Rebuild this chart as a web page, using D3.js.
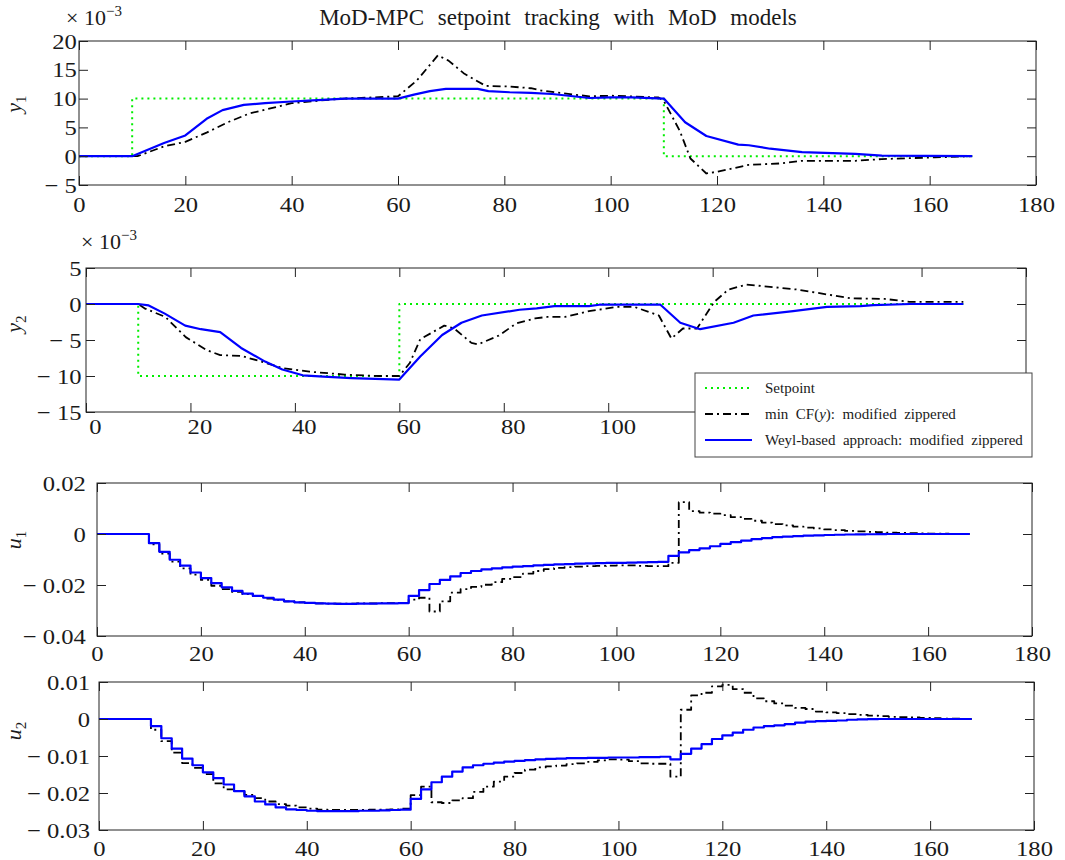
<!DOCTYPE html>
<html>
<head>
<meta charset="utf-8">
<script src="https://cdn.jsdelivr.net/npm/d3@7"></script>
<style>
  body { margin: 0; background: #fff; }
  svg text { font-family: "Liberation Serif", "Times New Roman", serif; fill: #1a1a1a; }
</style>
</head>
<body>
<div id="chart"></div>
<script>
// ---------- data (outputs in units of 1e-3) ----------
const spY1T = [0, 10, 110, 168];
const spY1 = [0, 10, 0, 0];
const spY2T = [0, 10, 60, 168];
const spY2 = [0, -10, 0, 0];

const y1WeylT = [0, 10, 16, 20, 24, 27, 31, 35, 40, 44, 50, 60, 63, 66, 69, 75, 77, 81, 85, 89, 96, 100, 104, 110, 114, 118, 124, 126, 130, 136, 146, 151, 168];
const y1Weyl = [0, 0, 2.3, 3.6, 6.5, 8.0, 8.9, 9.2, 9.5, 9.7, 10.0, 10.0, 10.7, 11.3, 11.7, 11.7, 11.3, 11.1, 11.0, 10.8, 10.1, 10.2, 10.2, 10.0, 5.9, 3.5, 2.0, 1.9, 1.3, 0.7, 0.4, 0.1, 0];

const y1CfT = [0, 11, 16, 20, 24, 28, 32, 36, 40, 47, 50, 60, 63.5, 67.5, 69.5, 72.5, 76.5, 81, 85, 87, 93, 96, 100, 109, 110, 113, 115, 118, 120, 126, 132, 136, 146, 151, 161, 168];
const y1Cf = [0, 0, 1.7, 2.5, 4.1, 5.9, 7.4, 8.3, 9.2, 9.8, 10.0, 10.4, 13.1, 17.5, 16.6, 14.3, 12.2, 12.1, 11.8, 11.4, 10.7, 10.4, 10.5, 10.2, 9.6, 4.4, -0.4, -3.0, -2.7, -1.5, -1.25, -0.8, -0.8, -0.5, -0.2, 0];

const y2WeylT = [0, 10, 12, 15, 19, 22, 25.7, 29.7, 34.3, 37.6, 41.5, 45.5, 50.8, 60, 64, 68.2, 71.9, 75.8, 83, 86.3, 89.7, 96.3, 98.3, 110, 113.8, 117.6, 124, 127.8, 135.4, 141.9, 148.3, 150.8, 157.8, 168];
const y2Weyl = [0, 0, -0.2, -1.3, -3.0, -3.5, -3.9, -6.1, -8.0, -9.1, -9.9, -10.1, -10.3, -10.5, -7.3, -4.3, -2.6, -1.6, -0.8, -0.6, -0.3, -0.3, -0.1, -0.1, -2.6, -3.5, -2.6, -1.6, -1.0, -0.4, -0.3, -0.15, 0, 0];

const y2CfT = [0, 10, 11.2, 15.2, 19.1, 23.1, 25.7, 29.7, 33.6, 37.6, 42.8, 49.5, 56, 60, 62, 64, 68.6, 70.5, 73.8, 75.1, 79, 82.4, 86, 88.3, 91.7, 96.3, 101.7, 105, 109.7, 112.1, 114.3, 117, 120.3, 123, 126.5, 136.3, 146.3, 153, 157.7, 168];
const y2Cf = [0, 0, -0.6, -1.8, -4.6, -6.4, -7.1, -7.2, -8.0, -8.9, -9.4, -9.8, -10.0, -10.0, -8.2, -4.9, -3.0, -3.4, -5.4, -5.6, -4.4, -2.7, -2.0, -1.8, -1.8, -1.0, -0.4, -0.4, -1.6, -4.8, -3.4, -3.4, 0.3, 2.0, 2.7, 2.0, 0.8, 0.7, 0.3, 0.3];

// inputs, held over each 2 s sample (units of 1e-3)
const tU = d3.range(0, 170, 2);
const u1Weyl = [0, 0, 0, 0, 0, -3.6, -7.0, -10.1, -12.4, -15.1, -17.3, -19.3, -20.9, -22.3, -23.4, -24.3, -25.0, -25.7, -26.4, -26.8,
  -27.0, -27.2, -27.3, -27.4, -27.4, -27.3, -27.3, -27.2, -27.2, -27.1, -24.3, -22.0, -19.6, -18.0, -16.6, -15.3, -14.5, -13.9, -13.5, -13.1,
  -12.8, -12.6, -12.3, -12.1, -11.9, -11.8, -11.6, -11.5, -11.4, -11.3, -11.3, -11.2, -11.1, -11.0, -10.9, -8.6, -7.2, -6.3, -5.6, -4.8,
  -3.9, -3.2, -2.6, -2.0, -1.6, -1.2, -1.0, -0.8, -0.6, -0.5, -0.4, -0.3, -0.2, -0.15, -0.1, -0.05, 0, 0, 0, 0, 0, 0, 0, 0, 0];
const u1Cf = [0, 0, 0, 0, 0, -4.1, -7.7, -10.8, -13.5, -15.9, -18.0, -20.3, -21.6, -22.7, -23.6, -24.3, -25.3, -25.8, -26.4, -26.8,
  -27.0, -27.2, -27.3, -27.3, -27.3, -27.2, -27.2, -27.1, -27.1, -27.0, -25.7, -25.0, -30.4, -26.4, -23.0, -21.6, -20.7, -19.9, -18.9, -17.6,
  -16.9, -15.5, -14.5, -13.8, -13.3, -13.0, -12.8, -12.6, -12.5, -12.4, -12.3, -12.3, -12.5, -12.6, -12.6, -11.3, 12.5, 9.0, 8.4, 8.0,
  7.4, 6.6, 5.9, 5.2, 4.5, 3.9, 3.4, 2.9, 2.5, 2.2, 1.8, 1.5, 1.2, 1.0, 0.8, 0.7, 0.5, 0.4, 0.3, 0.2, 0.1, 0.1, 0.05, 0, 0];
const u2Weyl = [0, 0, 0, 0, 0, -1.9, -5.2, -8.0, -10.7, -12.5, -14.4, -16.0, -17.7, -19.5, -20.9, -22.3, -23.1, -23.9, -24.4, -24.6,
  -24.8, -24.9, -24.9, -24.9, -24.9, -24.8, -24.8, -24.7, -24.6, -24.5, -21.6, -19.0, -17.1, -15.6, -14.2, -13.1, -12.5, -12.1, -11.8, -11.5,
  -11.3, -11.1, -10.9, -10.8, -10.7, -10.6, -10.6, -10.5, -10.5, -10.4, -10.4, -10.4, -10.3, -10.3, -10.2, -10.9, -9.4, -8.0, -6.8, -5.4,
  -4.4, -3.7, -2.9, -2.3, -1.9, -1.7, -1.4, -1.0, -0.7, -0.6, -0.5, -0.4, -0.2, -0.1, -0.05, 0, 0, 0, 0, 0, 0, 0, 0, 0, 0];
const u2Cf = [0, 0, 0, 0, 0, -2.9, -6.0, -9.1, -11.9, -13.2, -14.9, -17.4, -19.0, -19.5, -20.5, -21.4, -22.3, -23.0, -23.4, -23.9,
  -24.2, -24.5, -24.6, -24.6, -24.6, -24.6, -24.5, -24.5, -24.4, -24.2, -20.6, -18.3, -22.5, -22.7, -22.0, -21.4, -19.7, -18.3, -16.9, -15.6,
  -14.6, -13.7, -13.1, -12.8, -12.6, -12.2, -12.0, -11.6, -11.2, -10.9, -11.0, -11.4, -12.0, -12.1, -12.1, -15.6, 2.5, 6.4, 7.1, 8.8,
  9.2, 8.1, 7.1, 5.6, 4.8, 4.2, 3.6, 3.0, 2.7, 2.0, 1.8, 1.6, 1.3, 1.1, 0.9, 0.8, 0.6, 0.5, 0.4, 0.3, 0.2, 0.1, 0.1, 0, 0];

const xTicks = [0, 20, 40, 60, 80, 100, 120, 140, 160, 180];
const y1Ticks = [-5, 0, 5, 10, 15, 20];
const y2Ticks = [-15, -10, -5, 0, 5];
const u1Ticks = [-40, -20, 0, 20];
const u2Ticks = [-30, -20, -10, 0, 10];

const titleText = "MoD-MPC setpoint tracking with MoD models";

// ---------- styles ----------
const serif = "'Liberation Serif', 'Times New Roman', serif";
const styles = {
  sp:   {color: "#00ee00", width: 2, dash: "2,4"},
  cf:   {color: "#000000", width: 1.8, dash: "8,4,2,4"},
  weyl: {color: "#0000ff", width: 2.2, dash: null}
};

const zip = (t, v) => t.map((d, i) => [d, v[i]]);

const minusFmt = v => v < 0 ? "\u2212 " + (-v) : String(v);
const milliFmt = v => {
  if (v === 0) return "0";
  const s = d3.format(".2f")(Math.abs(v) / 1000);
  return v < 0 ? "\u2212 " + s : s;
};

// legend box (panel 2 tick labels under it are hidden, as in the figure)
const legendBox = {x: 695, y: 373, w: 337, h: 84};

const panels = [
  {name: "y", sub: "1", box: {l: 79, r: 1036, t: 41, b: 185}, yDomain: [-5, 20], yTicks: y1Ticks, fmt: minusFmt,
    xPad: 11, yPad: 2, xDx: 0, labelY: 104, exp: [66, 25],
    lines: [{d: zip(spY1T, spY1), s: "sp", step: true}, {d: zip(y1CfT, y1Cf), s: "cf"}, {d: zip(y1WeylT, y1Weyl), s: "weyl"}]},
  {name: "y", sub: "2", box: {l: 86, r: 1026, t: 268, b: 412}, yDomain: [-15, 5], yTicks: y2Ticks, fmt: minusFmt,
    xPad: 6, yPad: 4, xDx: 8, labelY: 324, exp: [81, 249], underLegend: true,
    lines: [{d: zip(spY2T, spY2), s: "sp", step: true}, {d: zip(y2CfT, y2Cf), s: "cf"}, {d: zip(y2WeylT, y2Weyl), s: "weyl"}]},
  {name: "u", sub: "1", box: {l: 97, r: 1032, t: 483, b: 636}, yDomain: [-40, 20], yTicks: u1Ticks, fmt: milliFmt,
    xPad: 9, yPad: 10, xDx: 0, labelY: 540,
    lines: [{d: zip(tU, u1Cf), s: "cf", step: true}, {d: zip(tU, u1Weyl), s: "weyl", step: true}]},
  {name: "u", sub: "2", box: {l: 99, r: 1034, t: 682, b: 830}, yDomain: [-30, 10], yTicks: u2Ticks, fmt: milliFmt,
    xPad: 10, yPad: 8, xDx: 0, labelY: 731,
    lines: [{d: zip(tU, u2Cf), s: "cf", step: true}, {d: zip(tU, u2Weyl), s: "weyl", step: true}]}
];

const svg = d3.select("#chart").append("svg")
  .attr("width", 1065)
  .attr("height", 860);

const tickFont = 22, tickStretch = 1.12, tickLen = 9;

panels.forEach(p => {
  const b = p.box;
  const x = d3.scaleLinear().domain([0, 180]).range([b.l, b.r]);
  const y = d3.scaleLinear().domain(p.yDomain).range([b.b, b.t]);
  const g = svg.append("g");

  // series
  p.lines.forEach(ln => {
    const st = styles[ln.s];
    const line = d3.line()
      .x(d => x(d[0]))
      .y(d => y(d[1]))
      .curve(ln.step ? d3.curveStepAfter : d3.curveLinear);
    g.append("path")
      .datum(ln.d)
      .attr("fill", "none")
      .attr("stroke", st.color)
      .attr("stroke-width", st.width)
      .attr("stroke-dasharray", st.dash)
      .attr("stroke-linejoin", "round")
      .attr("d", line);
  });

  // inward ticks on all four sides
  const bottom = g.append("g").attr("transform", `translate(0,${b.b})`)
    .call(d3.axisBottom(x).tickValues(xTicks).tickSize(-tickLen).tickSizeOuter(0).tickPadding(p.xPad));
  g.append("g").attr("transform", `translate(0,${b.t})`)
    .call(d3.axisTop(x).tickValues(xTicks).tickSize(-tickLen).tickSizeOuter(0).tickFormat(""));
  const left = g.append("g").attr("transform", `translate(${b.l},0)`)
    .call(d3.axisLeft(y).tickValues(p.yTicks).tickSize(-tickLen).tickSizeOuter(0).tickPadding(p.yPad).tickFormat(p.fmt));
  g.append("g").attr("transform", `translate(${b.r},0)`)
    .call(d3.axisRight(y).tickValues(p.yTicks).tickSize(-tickLen).tickSizeOuter(0).tickFormat(""));

  g.selectAll(".domain").remove();
  g.selectAll(".tick line").attr("stroke", "#222");
  g.selectAll("g").attr("font-family", serif);
  bottom.selectAll("text")
    .attr("font-size", tickFont)
    .attr("x", p.xDx)
    .attr("transform", `scale(${tickStretch},1)`);
  if (p.underLegend) {
    bottom.selectAll(".tick").filter(d => x(d) > legendBox.x - 15).select("text").remove();
  }
  left.selectAll("text")
    .attr("font-size", tickFont)
    .attr("transform", `scale(${tickStretch},1)`);

  g.append("rect")
    .attr("x", b.l).attr("y", b.t)
    .attr("width", b.r - b.l).attr("height", b.b - b.t)
    .attr("fill", "none")
    .attr("stroke", "#222")
    .attr("stroke-width", 1);

  // y label
  const lab = g.append("text")
    .attr("transform", `translate(21,${p.labelY}) rotate(-90)`)
    .attr("text-anchor", "middle")
    .attr("font-size", 22);
  lab.append("tspan").attr("font-style", "italic").text(p.name);
  lab.append("tspan").attr("font-size", 15).attr("dy", 5).text(p.sub);

  // exponent label
  if (p.exp) {
    const e = g.append("text")
      .attr("x", p.exp[0]).attr("y", p.exp[1])
      .attr("font-size", 22);
    e.append("tspan").text("\u00d7 10");
    e.append("tspan").attr("font-size", 15).attr("dy", -9).text("\u22123");
  }
});

// title
svg.append("text")
  .attr("x", 558).attr("y", 25)
  .attr("text-anchor", "middle")
  .attr("font-size", 23)
  .attr("word-spacing", 8)
  .text(titleText);

// legend
const legendItems = [
  {s: "sp", label: [{t: "Setpoint"}]},
  {s: "cf", label: [{t: "min  CF("}, {t: "y", it: true}, {t: "):  modified  zippered"}]},
  {s: "weyl", label: [{t: "Weyl-based  approach:  modified  zippered"}]}
];
const legend = svg.append("g").attr("transform", `translate(${legendBox.x},${legendBox.y})`);
legend.append("rect")
  .attr("width", legendBox.w).attr("height", legendBox.h)
  .attr("fill", "#fff")
  .attr("stroke", "#444")
  .attr("stroke-width", 1);
legendItems.forEach((it, i) => {
  const ly = 15 + i * 26;
  const st = styles[it.s];
  legend.append("line")
    .attr("x1", 10).attr("x2", 57)
    .attr("y1", ly).attr("y2", ly)
    .attr("stroke", st.color)
    .attr("stroke-width", st.width)
    .attr("stroke-dasharray", st.dash);
  const t = legend.append("text")
    .attr("x", 70).attr("y", ly + 5)
    .attr("font-size", 15)
    .style("white-space", "pre");
  it.label.forEach(part => {
    t.append("tspan").attr("font-style", part.it ? "italic" : null).text(part.t);
  });
});
</script>
</body>
</html>
